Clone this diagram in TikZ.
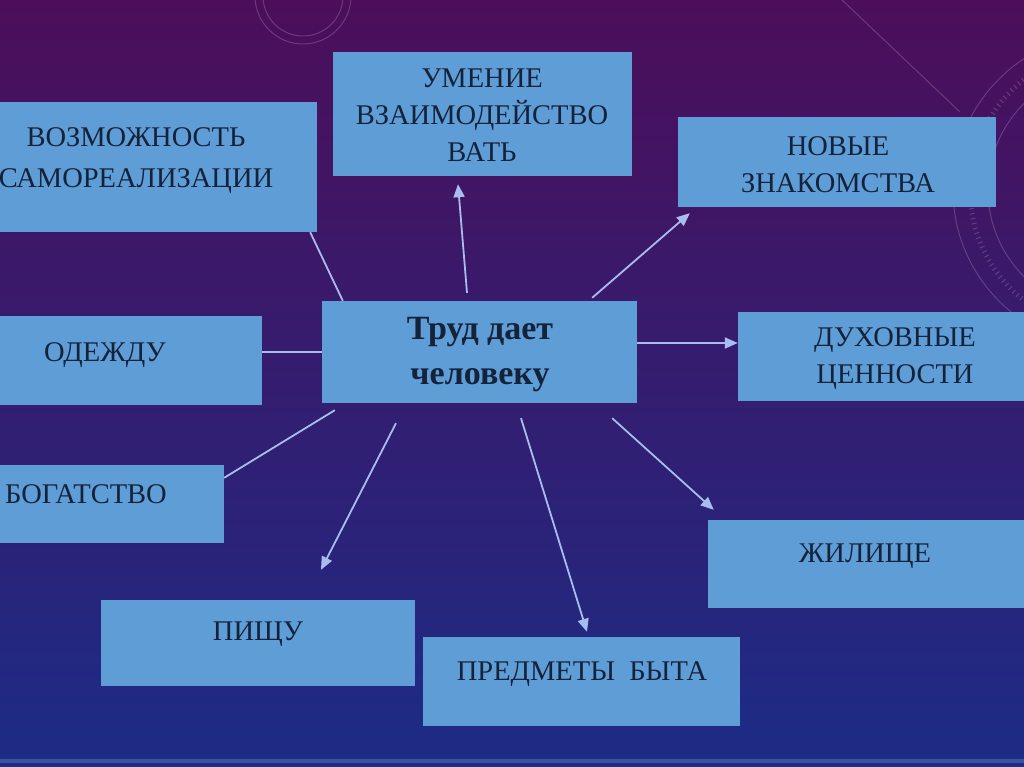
\documentclass[tikz,border=0pt]{standalone}
\usepackage{fontspec}
\setmainfont{Liberation Serif}
\usetikzlibrary{arrows.meta}
\definecolor{bgtop}{RGB}{76,14,90}
\definecolor{bgmid}{RGB}{52,24,110}
\definecolor{bgbot}{RGB}{28,44,134}
\definecolor{boxblue}{RGB}{95,157,215}
\definecolor{txtcol}{RGB}{20,34,58}
\definecolor{conncol}{RGB}{168,188,240}
\begin{document}
\begin{tikzpicture}[x=1pt,y=-1pt,
  box/.style={rectangle, fill=boxblue, draw=none, inner sep=0pt},
  txt/.style={text=txtcol, font=\fontsize{28.5}{37}\selectfont, align=center, inner sep=0pt},
  conn/.style={draw=conncol, line width=1.8pt},
  arr/.style={conn, -{Triangle[length=13pt,width=11pt]}},
  deco/.style={draw=white, opacity=0.18, line width=1pt}]
\useasboundingbox (0,0) rectangle (1024,767);
\clip (0,0) rectangle (1024,767);
\shade[top color=bgtop, middle color=bgmid, bottom color=bgbot] (0,0) rectangle (1024,767);
% decorations
\draw[deco] (303,-4) circle[radius=48pt];
\draw[deco] (303,-4) circle[radius=40pt];
\draw[deco] (1110,190) circle[radius=157pt];
\draw[deco] (1110,190) circle[radius=122pt];
\draw[deco] (842,0) -- (960,112);
\draw[deco, dash pattern=on 1pt off 4pt, line width=5pt] (1110,190) ++(120:140pt) arc[start angle=120, end angle=245, radius=140pt];
\fill[conncol, opacity=0.25] (0,759) rectangle (1024,763);
% boxes
\node[box, minimum width=368pt, minimum height=130pt] (voz) at (133,167) {};
\node[box, minimum width=299pt, minimum height=124pt] (umen) at (482.5,114) {};
\node[box, minimum width=318pt, minimum height=90pt] (nov) at (837,162) {};
\node[box, minimum width=314pt, minimum height=89pt] (odezh) at (105,360.5) {};
\node[box, minimum width=315pt, minimum height=102pt] (trud) at (479.5,352) {};
\node[box, minimum width=314pt, minimum height=89pt] (duh) at (895,356.5) {};
\node[box, minimum width=280pt, minimum height=78pt] (bog) at (84,504) {};
\node[box, minimum width=316pt, minimum height=88pt] (zhil) at (866,564) {};
\node[box, minimum width=314pt, minimum height=86pt] (pish) at (258,643) {};
\node[box, minimum width=317pt, minimum height=89pt] (pred) at (581.5,681.5) {};
% texts
\node[txt, font=\fontsize{28.5}{41}\selectfont] (vozt) at (136,161) {ВОЗМОЖНОСТЬ\\САМОРЕАЛИЗАЦИИ};
\node[txt] (ument) at (482,115) {УМЕНИЕ\\ВЗАИМОДЕЙСТВО\\ВАТЬ};
\node[txt] (novt) at (838,164.5) {НОВЫЕ\\ЗНАКОМСТВА};
\node[txt] (odezht) at (105,355) {ОДЕЖДУ};
\node[txt, font=\fontsize{34}{45}\selectfont\bfseries] (trudt) at (480,354.5) {Труд дает\\человеку};
\node[txt] (duht) at (895,359) {ДУХОВНЫЕ\\ЦЕННОСТИ};
\node[txt] (bogt) at (86,494) {БОГАТСТВО};
\node[txt] (zhilt) at (865,556) {ЖИЛИЩЕ};
\node[txt] (pisht) at (258,634) {ПИЩУ};
\node[txt] (predt) at (582,674) {ПРЕДМЕТЫ\ \ БЫТА};
% connectors
\draw[conn] ([xshift=21pt]trud.north west) -- ([xshift=-7pt]voz.south east);
\draw[arr] ([xshift=-12.5pt,yshift=8pt]trud.north) -- ([xshift=-24.5pt,yshift=-8pt]umen.south);
\draw[arr] ([xshift=-45pt,yshift=3pt]trud.north east) -- ([xshift=12pt,yshift=-6pt]nov.south west);
\draw[conn] (trud.west) -- (odezh.east |- trud.west);
\draw[arr] ([yshift=9pt]trud.east) -- ([yshift=9pt]duh.west |- trud.east);
\draw[conn] ([xshift=13pt,yshift=-7pt]trud.south west) -- ([yshift=-13pt]bog.north east);
\draw[arr] ([xshift=-83.5pt,yshift=-20pt]trud.south) -- ([xshift=63pt,yshift=30pt]pish.north);
\draw[arr] ([xshift=41.5pt,yshift=-15pt]trud.south) -- ([xshift=5.5pt,yshift=5pt]pred.north);
\draw[arr] ([xshift=-25pt,yshift=-15pt]trud.south east) -- ([xshift=6pt,yshift=10pt]zhil.north west);
\end{tikzpicture}
\end{document}
